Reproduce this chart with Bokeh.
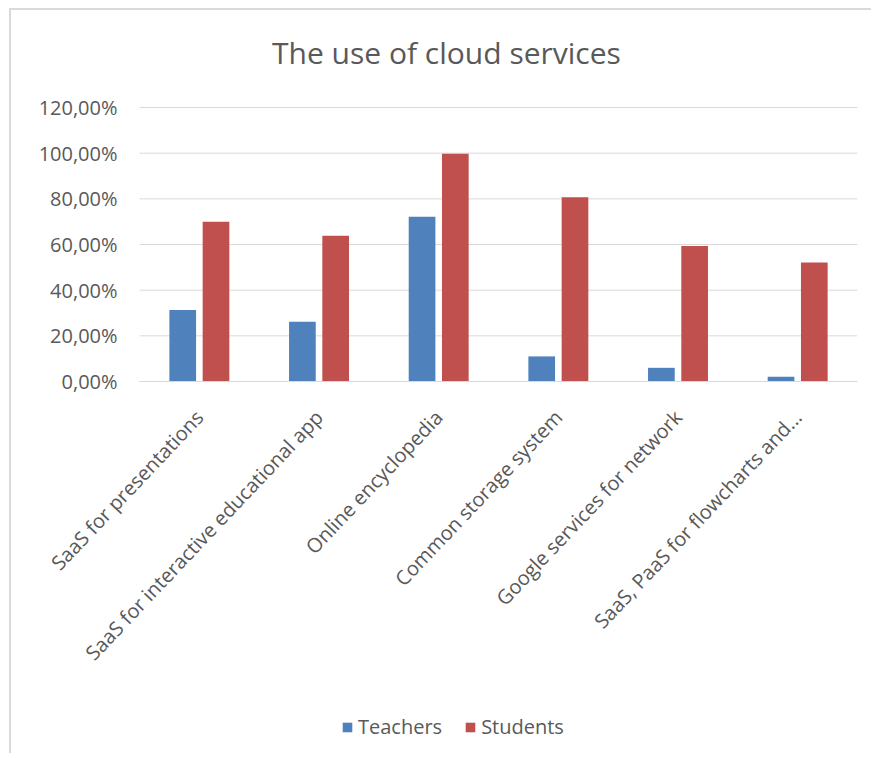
from bokeh.plotting import figure
from bokeh.models import (ColumnDataSource, Legend, LegendItem, Range1d, Label,
                          FixedTicker, CustomJSTickFormatter)
from bokeh.embed import file_html
from bokeh.resources import INLINE

categories = ["SaaS for presentations", "SaaS for interactive educational app",
              "Online encyclopedia", "Common storage system",
              "Google services for network", "SaaS, PaaS for flowcharts and..."]
teachers = [0.313, 0.262, 0.722, 0.110, 0.060, 0.021]
students = [0.700, 0.638, 0.998, 0.807, 0.594, 0.521]
y_ticks = [0, 0.2, 0.4, 0.6, 0.8, 1.0, 1.2]
title_text = "The use of cloud services"

TEXT = "#595959"
GRID = "#d9d9d9"
BLUE = "#4F81BD"
RED = "#C0504D"
FONT = "Open Sans"

n = len(categories)
centers = [i + 0.5 for i in range(n)]
OFF = 0.139
BW = 0.223

src = ColumnDataSource(dict(
    xt=[c - OFF for c in centers], xs=[c + OFF for c in centers],
    teachers=teachers, students=students))

# the frame spans the whole chart box, so title, rotated labels and legend sit inside it
p = figure(x_range=Range1d(-1.07, n), y_range=Range1d(-1.638, 1.625),
           width=862, height=745, output_backend="svg", toolbar_location=None,
           min_border_left=0, min_border_right=16, min_border_top=0,
           min_border_bottom=0)
p.styles = {"border-left": "2px solid #d9d9d9", "border-top": "2px solid #d9d9d9",
            "margin-left": "9px", "margin-top": "8px"}
p.outline_line_color = None
p.background_fill_color = "white"
p.border_fill_color = "white"

p.add_layout(Label(x=2.565, y=1.443, text=title_text, text_align="center",
                   text_baseline="alphabetic", text_font=FONT,
                   text_font_size="30px", text_color=TEXT))

# horizontal gridlines at the value ticks, across the category span
p.segment(x0=[0] * len(y_ticks), x1=[n] * len(y_ticks), y0=y_ticks, y1=y_ticks,
          line_color=GRID, line_width=1)

r1 = p.vbar(x="xt", top="teachers", width=BW, source=src,
            fill_color=BLUE, line_color=None)
r2 = p.vbar(x="xs", top="students", width=BW, source=src,
            fill_color=RED, line_color=None)

p.xgrid.visible = False
p.ygrid.visible = False

p.yaxis.fixed_location = 0
p.yaxis.bounds = (0, 1.2)
p.yaxis.ticker = FixedTicker(ticks=y_ticks)
p.yaxis.formatter = CustomJSTickFormatter(code="return (tick*100).toFixed(2).replace('.', ',') + '%';")
p.yaxis.axis_line_color = None
p.yaxis.major_tick_line_color = None
p.yaxis.minor_tick_line_color = None
p.yaxis.major_tick_out = 0
p.yaxis.major_label_standoff = 22
p.yaxis.major_label_text_font = FONT
p.yaxis.major_label_text_font_size = "20px"
p.yaxis.major_label_text_color = TEXT

p.xaxis.fixed_location = 0
p.xaxis.bounds = (0, n)
p.xaxis.ticker = FixedTicker(ticks=centers)
p.xaxis.formatter = CustomJSTickFormatter(args=dict(cats=categories),
                                          code="return cats[Math.floor(tick)];")
p.xaxis.axis_line_color = GRID
p.xaxis.major_tick_line_color = None
p.xaxis.minor_tick_line_color = None
p.xaxis.major_tick_out = 0
p.xaxis.major_label_orientation = 0.813
p.xaxis.major_label_standoff = 32
p.xaxis.major_label_text_font = FONT
p.xaxis.major_label_text_font_size = "20px"
p.xaxis.major_label_text_color = TEXT

legend = Legend(items=[LegendItem(label="Teachers", renderers=[r1]),
                       LegendItem(label="Students", renderers=[r2])],
                location=(330, 15), orientation="horizontal",
                glyph_width=12, glyph_height=12, label_standoff=5, spacing=22,
                padding=0, margin=0, border_line_color=None,
                background_fill_alpha=0, label_text_font=FONT,
                label_text_font_size="20px", label_text_color=TEXT)
p.add_layout(legend, "center")

open("out.html", "w").write(file_html(p, INLINE))
